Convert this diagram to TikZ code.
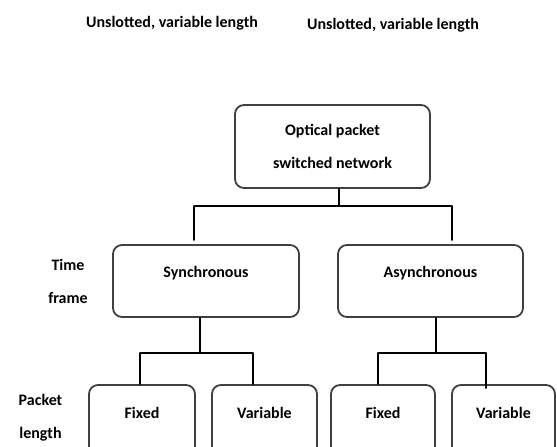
\documentclass[tikz,border=0pt]{standalone}
\usepackage{fontspec}
\setmainfont{Carlito}
\usetikzlibrary{positioning}
\begin{document}
\begin{tikzpicture}[x=1pt,y=-1pt, font=\bfseries\fontsize{16}{33}\selectfont, line join=round, line cap=round,
		box/.style={draw=black!75, line width=1.8pt, rounded corners=9pt, inner sep=0pt},
		link/.style={line width=1.3pt},
		side/.style={align=center, inner sep=0pt}]
		\def\W{557} \def\H{447}
		\clip (0,0) rectangle (\W,\H);
		%\draw[gray!40] (0,0) grid[step=50] (\W,\H);
		\node (hdleft) at (172,23) {Unslotted, variable length};
		\node (hdright) at (393,25) {Unslotted, variable length};
		% network level
		\node[box, minimum width=195pt, minimum height=83pt] (opsn) at (332.5,146.5) {};
		\node[side] (opsntxt) at (opsn.center) {Optical packet\\ switched network};
		% time frame level
		\node[box, minimum width=186pt, minimum height=72pt] (sync) at (206,281) {};
		\node (synctxt) at ([yshift=8pt]sync.center) {Synchronous};
		\node[box, minimum width=185pt, minimum height=72pt] (async) at (430.5,281) {};
		\node (asynctxt) at ([yshift=8pt]async.center) {Asynchronous};
		% packet length level
		\node[box, minimum width=106pt, minimum height=72pt] (sfix) at (142,421) {};
		\node[box, minimum width=105pt, minimum height=72pt] (svar) at (264.5,421) {};
		\node[box, minimum width=104pt, minimum height=72pt] (afix) at (383,421) {};
		\node[box, minimum width=103pt, minimum height=72pt] (avar) at (503.5,421) {};
		\node (sfixtxt) at ([yshift=8pt]sfix.center) {Fixed};
		\node (svartxt) at ([yshift=8pt]svar.center) {Variable};
		\node (afixtxt) at ([yshift=8pt]afix.center) {Fixed};
		\node (avartxt) at ([yshift=8pt]avar.center) {Variable};
		% side labels
		\node[side] (tframe) at (68,281.5) {Time\\ frame};
		\node[side] (plength) at (40.5,418) {Packet\\ length};
		% connectors
		\coordinate (j0) at (339,206);
		\coordinate (j0a) at (194,206);
		\coordinate (j0b) at (452,206);
		\coordinate (j1) at (200,353);
		\coordinate (j1a) at (140,353);
		\coordinate (j1b) at (253,353);
		\coordinate (j2) at (436,353);
		\coordinate (j2a) at (378,353);
		\coordinate (j2b) at (486,353);
		\draw[link] (j0 |- opsn.south) -- (j0);
		\draw[link] (j0a) -- (j0b);
		\draw[link] (j0a) -- ([yshift=4pt]j0a |- sync.north);
		\draw[link] (j0b) -- ([yshift=4pt]j0b |- async.north);
		\draw[link] (j1 |- sync.south) -- (j1);
		\draw[link] (j1a) -- (j1b);
		\draw[link] (j1a) -- (j1a |- sfix.north);
		\draw[link] (j1b) -- (j1b |- svar.north);
		\draw[link] (j2 |- async.south) -- (j2);
		\draw[link] (j2a) -- (j2b);
		\draw[link] (j2a) -- (j2a |- afix.north);
		\draw[link] (j2b) -- ([yshift=-4pt]j2b |- avar.north);
\end{tikzpicture}
\end{document}
